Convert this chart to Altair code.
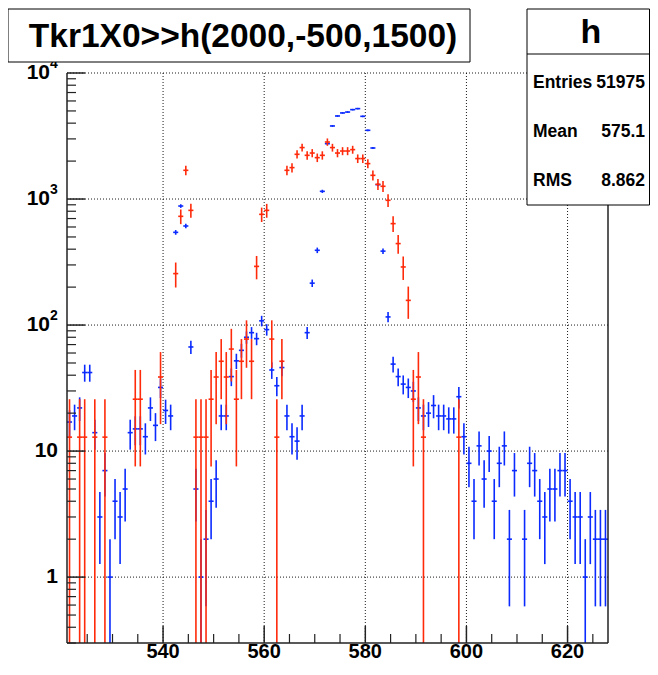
import math
import altair as alt
import pandas as pd

# ---------------- data ----------------
X_MIN, X_MAX = 521, 628
Y_MIN, Y_MAX = 0.3, 10000

blue_first_bin = 521
blue_counts = [
    17, 19, 22, 42, 42, 14, 3, 7, 1, 4,          # 521-530
    3, 5, 14, 15, 15, 13, 22, 16, 32, 21,        # 531-540
    19, 544, 880, 611, 67, 5, 1, 2, 4, 6,        # 541-550
    19, 19, 39, 52, 63, 80, 87, 78, 108, 92,     # 551-560
    44, 33, 46, 19, 13, 12, 19, 87, 215, 392,    # 561-570
    1151, 2750, 3800, 4560, 4820, 4900, 5120, 5215, 4530, 3510,  # 571-580
    2540, 1300, 386, 116, 49, 39, 34, 32, 30, 22,  # 581-590
    19, 20, 23, 19, 19, 18, 18, 27, 13, 8,       # 591-600
    4, 11, 6, 10, 4, 8, 11, 2, 7, 0,             # 601-610
    2, 8, 7, 4, 3, 5, 5, 7, 7, 4,                # 611-620
    3, 3, 1, 3, 2, 2, 2,                         # 621-627
]

red_bins = [521, 523, 524, 526, 528, 534, 535, 539,
            542, 543, 544, 545, 546, 547, 548, 549, 550,
            551, 552, 553, 554, 555, 556, 557, 558, 559, 560,
            561, 562, 563, 564, 565, 566, 567, 568, 569, 570,
            571, 572, 573, 574, 575, 576, 577, 578, 579, 580,
            581, 582, 583, 584, 585, 586, 587, 588, 589, 590,
            591, 598]
red_values = [12.9, 12.9, 12.9, 12.9, 12.9, 25.8, 25.8, 38.7,
              256, 729, 1690, 813, 12.9, 12.9, 12.9, 25.8, 38.7,
              51.6, 38.7, 64.5, 25.8, 51.6, 77.4, 51.6, 292, 756, 813,
              77.4, 12.9, 51.6, 1690, 1775, 2264, 2560, 2223, 2317, 2130,
              2223, 2834, 2560, 2317, 2404, 2404, 2466, 2094, 2094, 1910,
              1542, 1309, 1262, 977, 638, 443, 289, 157, 25.8, 38.7,
              12.9, 12.9]
RED_WEIGHT = 12.9   # weight of one red entry (smallest red step)

x_major = [540, 560, 580, 600, 620]
x_minor = [525, 530, 535, 545, 550, 555, 565, 570, 575, 585, 590, 595, 605, 610, 615, 625]
y_decades = [1, 10, 100, 1000, 10000]
y_plain_labels = [(1, "1"), (10, "10")]
y_sup_labels = [(100, "2"), (1000, "3"), (10000, "4")]

title_text = "Tkr1X0>>h(2000,-500,1500)"
stats_name = "h"
stats_labels = ["Entries", "Mean", "RMS"]
stats_values = ["51975", "575.1", "8.862"]

# ---------------- build tables ----------------
def hist_rows(series, bins, vals, weight):
    out = []
    for b, v in zip(bins, vals):
        if v <= 0:
            continue
        err = math.sqrt(v * weight)
        out.append(dict(series=series, x0=b, x1=b + 1, xc=b + 0.5, v=v,
                        lo=max(v - err, Y_MIN), hi=min(v + err, Y_MAX)))
    return pd.DataFrame(out)

blue_df = hist_rows("blue", list(range(blue_first_bin, blue_first_bin + len(blue_counts))), blue_counts, 1.0)
red_df = hist_rows("red", red_bins, red_values, RED_WEIGHT)

y_minor = []
d = 0.1
while d < Y_MAX:
    for m in range(2, 10):
        val = m * d
        if Y_MIN <= val < Y_MAX:
            y_minor.append(val)
    d *= 10

W, H = 541, 570
FONT = "Liberation Sans"
BLUE = "#0a2aff"
RED = "#ff2a0a"

xs = alt.Scale(domain=[X_MIN, X_MAX], nice=False, zero=False)
ys = alt.Scale(type="log", domain=[Y_MIN, Y_MAX], nice=False)
one = pd.DataFrame({"k": [0]})

grid_x = alt.Chart(pd.DataFrame({"g": x_major})).mark_rule(
    color="black", strokeDash=[1, 2], strokeWidth=1, opacity=0.9
).encode(x=alt.X("g:Q", scale=xs, axis=None), y=alt.value(0), y2=alt.value(H))

grid_y = alt.Chart(pd.DataFrame({"g": y_decades})).mark_rule(
    color="black", strokeDash=[1, 2], strokeWidth=1, opacity=0.9
).encode(y=alt.Y("g:Q", scale=ys, axis=None), x=alt.value(0), x2=alt.value(W))


def hist_layers(df, color):
    hz = alt.Chart(df).mark_rule(color=color, strokeWidth=1.6, clip=True).encode(
        x=alt.X("x0:Q", scale=xs, axis=None), x2="x1:Q",
        y=alt.Y("v:Q", scale=ys, axis=None))
    vt = alt.Chart(df).mark_rule(color=color, strokeWidth=1.6, clip=True).encode(
        x=alt.X("xc:Q", scale=xs, axis=None),
        y=alt.Y("lo:Q", scale=ys, axis=None), y2="hi:Q")
    return [vt, hz]


frame_col = "#222222"
left_axis = alt.Chart(one).mark_rule(color=frame_col, strokeWidth=1.5).encode(
    x=alt.value(0), y=alt.value(0), y2=alt.value(H))
bottom_axis = alt.Chart(one).mark_rule(color=frame_col, strokeWidth=1.5).encode(
    x=alt.value(0), x2=alt.value(W), y=alt.value(H))
right_axis = alt.Chart(one).mark_rule(color=frame_col, strokeWidth=1.5).encode(
    x=alt.value(W), y=alt.value(0), y2=alt.value(H))

xt_major = alt.Chart(pd.DataFrame({"t": x_major})).mark_rule(color=frame_col, strokeWidth=1.5).encode(
    x=alt.X("t:Q", scale=xs, axis=None), y=alt.value(H - 17), y2=alt.value(H))
xt_minor = alt.Chart(pd.DataFrame({"t": x_minor})).mark_rule(color=frame_col, strokeWidth=1.2).encode(
    x=alt.X("t:Q", scale=xs, axis=None), y=alt.value(H - 9), y2=alt.value(H))
yt_major = alt.Chart(pd.DataFrame({"t": y_decades})).mark_rule(color=frame_col, strokeWidth=1.5).encode(
    y=alt.Y("t:Q", scale=ys, axis=None), x=alt.value(0), x2=alt.value(18))
yt_minor = alt.Chart(pd.DataFrame({"t": y_minor})).mark_rule(color=frame_col, strokeWidth=1.2).encode(
    y=alt.Y("t:Q", scale=ys, axis=None), x=alt.value(0), x2=alt.value(9))

x_labels = alt.Chart(pd.DataFrame({"t": x_major, "s": [str(v) for v in x_major]})).mark_text(
    font=FONT, fontWeight="bold", fontSize=20, baseline="middle", align="center", color="black"
).encode(x=alt.X("t:Q", scale=xs, axis=None), y=alt.value(H + 9), text="s:N")

y_plain = alt.Chart(pd.DataFrame({"t": [v for v, _ in y_plain_labels],
                                  "s": [s for _, s in y_plain_labels]})).mark_text(
    font=FONT, fontWeight="bold", fontSize=21, baseline="middle", align="right", color="black"
).encode(y=alt.Y("t:Q", scale=ys, axis=None), x=alt.value(-9), text="s:N")

y_sup_base = alt.Chart(pd.DataFrame({"t": [v for v, _ in y_sup_labels],
                                     "s": ["10"] * len(y_sup_labels)})).mark_text(
    font=FONT, fontWeight="bold", fontSize=21, baseline="middle", align="right", color="black"
).encode(y=alt.Y("t:Q", scale=ys, axis=None), x=alt.value(-17), text="s:N")

y_sup_exp = alt.Chart(pd.DataFrame({"t": [v for v, _ in y_sup_labels],
                                    "s": [s for _, s in y_sup_labels]})).mark_text(
    font=FONT, fontWeight="bold", fontSize=14, baseline="middle", align="left", color="black", dy=-9
).encode(y=alt.Y("t:Q", scale=ys, axis=None), x=alt.value(-17), text="s:N")

# boxes (pixel positions relative to the plot area)
title_box = alt.Chart(one).mark_rect(fill="white", stroke="black", strokeWidth=1).encode(
    x=alt.value(-59), x2=alt.value(403), y=alt.value(-64), y2=alt.value(-11))
title = alt.Chart(one).mark_text(font=FONT, fontWeight="bold", fontSize=33.5, align="center",
                                 baseline="middle", color="black").encode(
    x=alt.value(176), y=alt.value(-36), text=alt.value(title_text))

stats_box = alt.Chart(one).mark_rect(fill="white", stroke="black", strokeWidth=1).encode(
    x=alt.value(460), x2=alt.value(582.5), y=alt.value(-64), y2=alt.value(132))
stats_sep = alt.Chart(one).mark_rule(color="black", strokeWidth=1).encode(
    x=alt.value(460), x2=alt.value(582.5), y=alt.value(-19))
stats_title = alt.Chart(one).mark_text(font=FONT, fontWeight="bold", fontSize=34, align="center",
                                       baseline="middle", color="black").encode(
    x=alt.value(524), y=alt.value(-40), text=alt.value(stats_name))

stats_layers = []
for i, (lab, val) in enumerate(zip(stats_labels, stats_values)):
    yy = 10 + 49 * i
    stats_layers.append(alt.Chart(one).mark_text(font=FONT, fontWeight="bold", fontSize=17.5, align="left",
                                                 baseline="middle", color="black").encode(
        x=alt.value(466), y=alt.value(yy), text=alt.value(lab)))
    stats_layers.append(alt.Chart(one).mark_text(font=FONT, fontWeight="bold", fontSize=17.5, align="right",
                                                 baseline="middle", color="black").encode(
        x=alt.value(578), y=alt.value(yy), text=alt.value(val)))

layers = [grid_x, grid_y] + hist_layers(blue_df, BLUE) + hist_layers(red_df, RED) + [
    left_axis, bottom_axis, right_axis, xt_major, xt_minor, yt_major, yt_minor,
    x_labels, y_plain, y_sup_base, y_sup_exp,
    title_box, title, stats_box, stats_sep, stats_title] + stats_layers

chart = alt.layer(*layers).properties(
    width=W, height=H,
    padding={"left": 59, "top": 65, "right": 42, "bottom": 20},
    autosize=alt.AutoSizeParams(type="none"),
    background="white",
).configure_view(stroke=None)

chart.save("out.html", embed_options={"renderer": "svg", "actions": False})
